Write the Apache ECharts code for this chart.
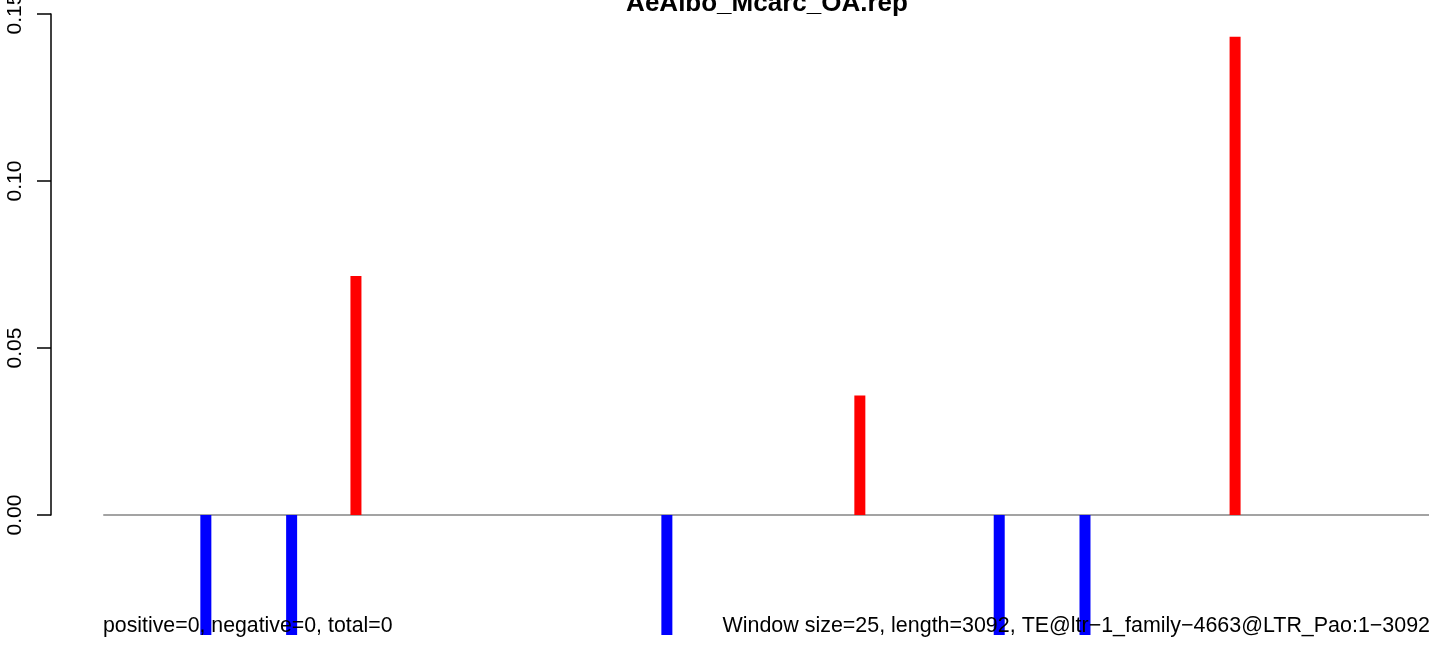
<!DOCTYPE html>
<html>
<head>
<meta charset="utf-8">
<script src="https://cdn.jsdelivr.net/npm/echarts@6/dist/echarts.min.js"></script>
<style>
html,body{margin:0;padding:0;background:#fff;}
#chart{width:1429px;height:646px;}
</style>
</head>
<body>
<div id="chart"></div>
<script>
// Data (window size 25 bp, sequence length 3092 bp)
const chartTitle = 'AeAlbo_Mcarc_OA.rep';
const leftNote = 'positive=0, negative=0, total=0';
const rightNote = 'Window size=25, length=3092, TE@ltr\u22121_family\u22124663@LTR_Pao:1\u22123092';
const seqLength = 3092;
const windowSize = 25;
const windowStarts = [225, 425, 575, 1300, 1750, 2075, 2275, 2625];
const windowValues = [-0.0359, -0.0359, 0.0716, -0.0359, 0.0358, -0.0359, -0.0359, 0.1432];
const yTicks = [0, 0.05, 0.10, 0.15];

const barData = windowStarts.map((s, i) => ({
  value: [s + windowSize / 2, windowValues[i]],
  itemStyle: { color: windowValues[i] >= 0 ? '#ff0000' : '#0000ff' }
}));

const chart = echarts.init(document.getElementById('chart'));
chart.setOption({
  animation: false,
  backgroundColor: '#ffffff',
  textStyle: { fontFamily: 'Liberation Sans, Arial, sans-serif' },
  title: [
    { text: chartTitle, left: 767, textAlign: 'center', top: -9, padding: 0,
      textStyle: { fontSize: 26, fontWeight: 'bold', color: '#000', fontFamily: 'Liberation Sans' } },
    { text: leftNote, left: 103, top: 616, padding: 0,
      textStyle: { fontSize: 21.3, fontWeight: 'normal', color: '#000', fontFamily: 'Liberation Sans' } },
    { text: rightNote, left: 722.5, top: 616, padding: 0,
      textStyle: { fontSize: 21.45, fontWeight: 'normal', color: '#000', fontFamily: 'Liberation Sans' } }
  ],
  grid: [
    { left: 104, right: -1, top: 14, bottom: 0, containLabel: false, outerBoundsMode: 'none' },
    { left: 51, width: 10, top: 14, height: 501, containLabel: false, outerBoundsMode: 'none' }
  ],
  xAxis: [
    { type: 'value', gridIndex: 0, min: 0, max: seqLength,
      axisLine: { show: true, onZero: true, lineStyle: { color: '#a3a3a3', width: 2 } },
      axisTick: { show: false }, axisLabel: { show: false }, splitLine: { show: false } },
    { type: 'value', gridIndex: 1, show: false, min: 0, max: 1 }
  ],
  yAxis: [
    { type: 'value', gridIndex: 0, min: -0.0392, max: 0.15, show: false, splitLine: { show: false } },
    { type: 'value', gridIndex: 1, min: 0, max: 0.15, interval: 0.05,
      axisLine: { show: true, lineStyle: { color: '#000', width: 1.5 } },
      axisTick: { show: true, length: 14, lineStyle: { color: '#000', width: 1.5 } },
      splitLine: { show: false },
      axisLabel: { show: true, rotate: 90, margin: 25, fontSize: 21, color: '#000',
        fontFamily: 'Liberation Sans', showMinLabel: true, showMaxLabel: true, hideOverlap: false,
        formatter: v => {
          const t = yTicks.find(x => Math.abs(x - v) < 1e-9);
          return (t !== undefined ? t : v).toFixed(2);
        } } }
  ],
  series: [
    { type: 'bar', xAxisIndex: 0, yAxisIndex: 0, barWidth: 11, data: barData, z: 1 }
  ]
});
</script>
</body>
</html>
